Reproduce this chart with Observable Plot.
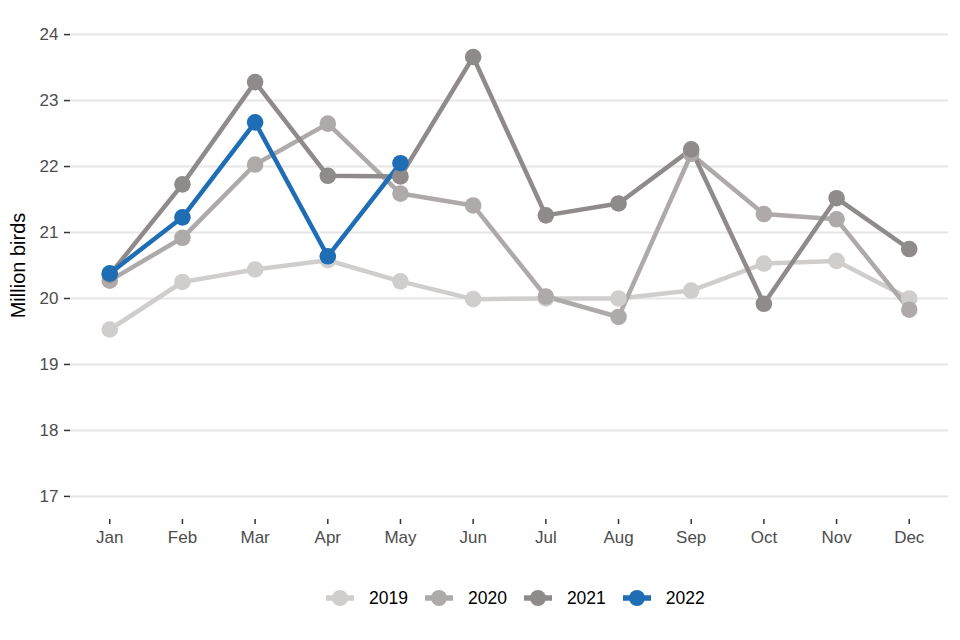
<!DOCTYPE html>
<html>
<head>
<meta charset="utf-8">
<script src="https://cdn.jsdelivr.net/npm/d3@7"></script>
<script src="https://cdn.jsdelivr.net/npm/@observablehq/plot@0.6"></script>
<style>
  body { margin: 0; background: #fff; font-family: "Liberation Sans", Arial, sans-serif; }
  #chart { width: 960px; }
  .legend { display: flex; align-items: center; gap: 17px; margin-top: 28px; padding-left: 326px; font-size: 17.5px; color: #000; height: 20px; }
  .legend .item { display: flex; align-items: center; gap: 15px; }
  .legend svg { display: block; }
</style>
</head>
<body>
<div id="chart"></div>
<script>
const months = ["Jan","Feb","Mar","Apr","May","Jun","Jul","Aug","Sep","Oct","Nov","Dec"];
const years = ["2019","2020","2021","2022"];
const colors = ["#d0cdcd","#aeaaaa","#8f8b8b","#1f6db5"];
const v2019 = [19.53,20.25,20.44,20.58,20.26,19.99,20.0,20.0,20.12,20.53,20.57,20.0];
const v2020 = [20.27,20.92,22.03,22.65,21.59,21.41,20.03,19.72,22.19,21.28,21.2,19.83];
const v2021 = [20.36,21.73,23.28,21.86,21.85,23.66,21.26,21.44,22.26,19.92,21.52,20.75];
const v2022 = [20.38,21.23,22.67,20.64,22.05];
const yTicks = [17,18,19,20,21,22,23,24];

const series = [v2019, v2020, v2021, v2022];
const data = [];
series.forEach((vals, i) => vals.forEach((v, j) => data.push({year: years[i], month: months[j], value: v})));

const chart = Plot.plot({
  width: 960,
  height: 560,
  marginLeft: 70,
  marginRight: 12,
  marginTop: 11,
  marginBottom: 41,
  style: {fontFamily: "Liberation Sans, Arial, sans-serif", fontSize: "17px", color: "#4d4d4d"},
  x: {type: "point", domain: months, padding: 0.54, round: false, label: null},
  y: {domain: [16.65, 24.35], ticks: yTicks, label: "Million birds"},
  color: {domain: years, range: colors},
  marks: [
    Plot.gridY(yTicks, {stroke: "#e6e6e6", strokeOpacity: 1, strokeWidth: 2}),
    Plot.axisY(yTicks, {tickSize: 6, tickPadding: 6, fontSize: 17, stroke: "#333", strokeWidth: 1.5, fill: "#4d4d4d",
      tickFormat: d3.format("d"),
      label: "Million birds", labelAnchor: "center", labelArrow: "none", labelOffset: 60}),
    Plot.axisX({tickSize: 5, tickPadding: 6, fontSize: 17, stroke: "#333", strokeWidth: 1.5, fill: "#4d4d4d", label: null}),
    ...years.map(y => Plot.line(data.filter(d => d.year === y), {x: "month", y: "value", stroke: "year", strokeWidth: 4.5})),
    ...years.map(y => Plot.dot(data.filter(d => d.year === y), {x: "month", y: "value", fill: "year", r: 8.3}))
  ]
});
document.getElementById("chart").appendChild(chart);

// style y label
chart.querySelectorAll("[aria-label='y-axis label']").forEach(g => {
  g.setAttribute("font-size", "20");
  g.setAttribute("fill", "#000");
  g.querySelectorAll("text").forEach(t => { t.setAttribute("font-size", "20"); t.setAttribute("fill", "#000"); t.style.fontSize = "20px"; });
});

const legend = document.createElement("div");
legend.className = "legend";
years.forEach((y, i) => {
  const item = document.createElement("div");
  item.className = "item";
  item.innerHTML = `<svg width="28" height="18"><line x1="0" x2="28" y1="9" y2="9" stroke="${colors[i]}" stroke-width="5.5"/><circle cx="14" cy="9" r="8" fill="${colors[i]}"/></svg><span>${y}</span>`;
  legend.appendChild(item);
});
document.getElementById("chart").appendChild(legend);
</script>
</body>
</html>
